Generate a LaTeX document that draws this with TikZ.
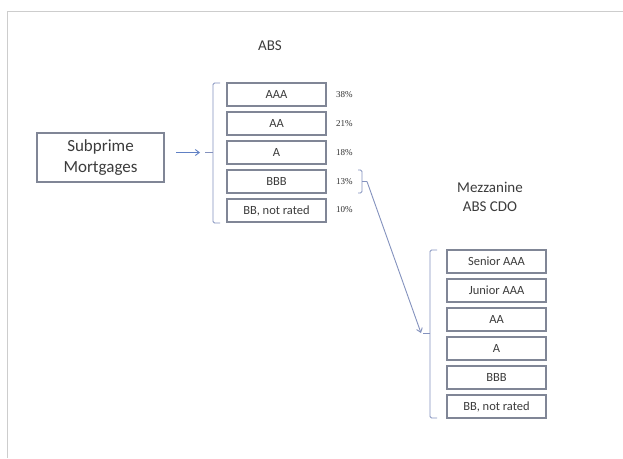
\documentclass[tikz,border=0pt]{standalone}
\usepackage{fontspec}
\setmainfont{Carlito}
\newfontfamily\pctfont{Liberation Serif}
\usetikzlibrary{arrows.meta}
\definecolor{boxc}{RGB}{128,134,150}
\definecolor{brc}{RGB}{132,146,190}
\definecolor{arrc}{RGB}{96,128,196}
\definecolor{txtc}{RGB}{60,60,60}
\definecolor{framec}{RGB}{205,205,205}
\begin{document}
\begin{tikzpicture}[x=1pt,y=-1pt,
  tbox/.style={draw=boxc, line width=1.2pt, minimum width=99pt, minimum height=23pt, inner sep=0pt, text=txtc, font=\fontsize{12.5}{14}\selectfont},
  pct/.style={anchor=west, inner sep=0pt, text=txtc!80!black, font=\pctfont\fontsize{9}{10}\selectfont},
  ttl/.style={align=center, inner sep=0pt, text=txtc, font=\fontsize{15}{19}\selectfont},
  brk/.style={draw=brc, line width=0.9pt, line join=round, rounded corners=1.5pt},
  arr/.style={draw=arrc, line width=0.9pt, -{Straight Barb[length=4pt,width=6pt]}}]
\useasboundingbox (0,0) rectangle (623,458);
\fill[white] (0,0) rectangle (623,458);
% frame
\draw[framec, line width=1.2pt] (7.5,458) -- (7.5,11.5) -- (623,11.5);
% subprime
\node[draw=boxc, line width=1.2pt, minimum width=127pt, minimum height=49pt, inner sep=0pt, align=center, text=txtc, font=\fontsize{17}{21}\selectfont] (sub) at (100.5,157.5) {Subprime\\Mortgages};
% titles
\node[ttl] (absT) at (270,46) {ABS};
\node[ttl] (cdoT) at (490,197) {Mezzanine\\ABS CDO};
% ABS tranches
\node[tbox] (a1) at (276.5,94.5) {AAA};
\node[tbox] (a2) at (276.5,123.5) {AA};
\node[tbox] (a3) at (276.5,152.5) {A};
\node[tbox] (a4) at (276.5,181.5) {BBB};
\node[tbox] (a5) at (276.5,210.5) {BB, not rated};
\node[pct] (p1) at (336,94.5) {38\%};
\node[pct] (p2) at (336,123.5) {21\%};
\node[pct] (p3) at (336,152.5) {18\%};
\node[pct] (p4) at (336,181.5) {13\%};
\node[pct] (p5) at (336,209.5) {10\%};
% CDO tranches
\node[tbox] (c1) at (496.5,261.5) {Senior AAA};
\node[tbox] (c2) at (496.5,290.5) {Junior AAA};
\node[tbox] (c3) at (496.5,319.5) {AA};
\node[tbox] (c4) at (496.5,348.5) {A};
\node[tbox] (c5) at (496.5,377.5) {BBB};
\node[tbox] (c6) at (496.5,406.5) {BB, not rated};
% ABS bracket
\coordinate (subOut) at (176,152.5);
\coordinate (absIn) at (205,152.5);
\coordinate (absTip) at (200,152.5);
\draw[brk] (220,83) -- (213,83) -- (213,223) -- (220,223);
\draw[brk] (213,152.5) -- (absIn);
\draw[arr] (subOut) -- (absTip);
% 13% bracket
\coordinate (bbbOut) at (367,181.5);
\draw[brk] (358,170) -- (362,170) -- (362,193) -- (358,193);
\draw[brk] (362,181.5) -- (bbbOut);
% CDO bracket
\coordinate (cdoTip) at (421,333);
\draw[brk] (437,250) -- (430,250) -- (430,418) -- (437,418);
\draw[brk] (430,333) -- (423,333);
\draw[arr, draw=brc] (bbbOut) -- (cdoTip);
\end{tikzpicture}
\end{document}
